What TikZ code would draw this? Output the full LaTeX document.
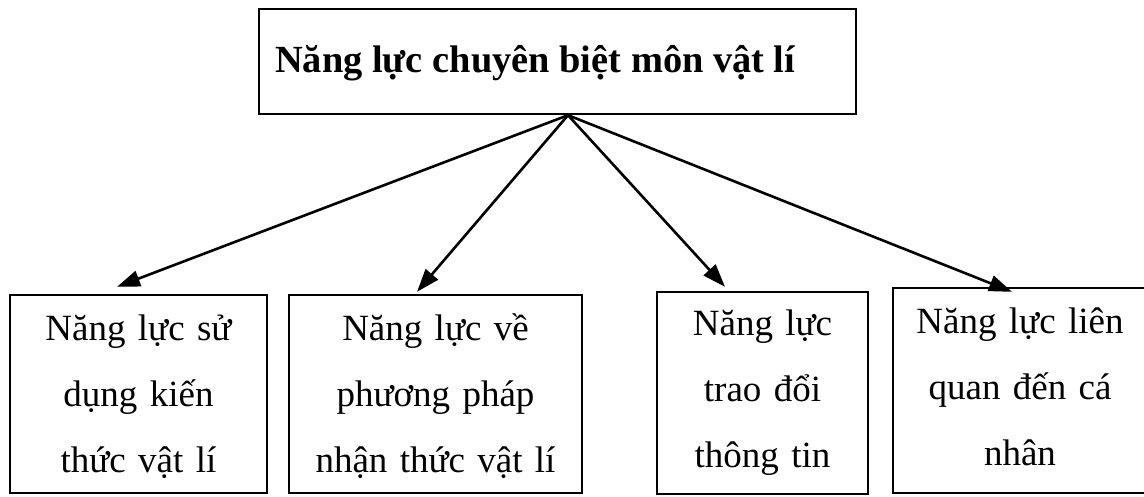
\documentclass[tikz,border=0pt]{standalone}
\usepackage{fontspec}
\setmainfont{Liberation Serif}
\usetikzlibrary{arrows.meta,calc}

\tikzset{
  frame/.style={draw=black, line width=2.4pt, minimum width=#1, inner sep=0pt},
  body/.style={anchor=base, align=center, text width=300pt, inner sep=0pt,
               font=\fontsize{37}{66}\selectfont},
  link/.style={line width=2.6pt, -{Triangle[length=23pt,width=16pt]}}
}

\begin{document}
\begin{tikzpicture}[x=1pt, y=-1pt]
  \useasboundingbox (0,0) rectangle (1144,496);

  % top box with the title
  \node[frame=597pt, minimum height=105pt] (top) at (557.5,61.5) {};
  \node[anchor=base west, inner sep=0pt, font=\fontsize{38.4}{44}\bfseries\selectfont]
    (title) at (275,72) {Năng lực chuyên biệt môn vật lí};

  % the four boxes below
  \node[frame=257pt, minimum height=198pt] (b1) at (138.5,394) {};
  \node[frame=293pt, minimum height=198pt] (b2) at (435.5,394) {};
  \node[frame=211pt, minimum height=202pt] (b3) at (762.5,393) {};
  \node[frame=254pt, minimum height=205pt] (b4) at (1020,390.5) {};

  \node[body] (t1) at (138.5,340) {Năng lực sử\\dụng kiến\\thức vật lí};
  \node[body] (t2) at (435.5,340) {Năng lực về\\phương pháp\\nhận thức vật lí};
  \node[body] (t3) at (762.5,335) {Năng lực\\trao đổi\\thông tin};
  \node[body] (t4) at (1020,333) {Năng lực liên\\quan đến cá\\nhân};

  % arrows spreading from one point under the title box
  \coordinate (apex) at ($(top.south)+(10.5,0)$);
  \draw[link] (apex) -- ($(b1.north)+(-21.5,-7)$);
  \draw[link] (apex) -- ($(b2.north)+(-18.5,-2)$);
  \draw[link] (apex) -- ($(b3.north)+(-37.5,-4)$);
  \draw[link] (apex) -- ($(b4.north)+(-8,5)$);
\end{tikzpicture}
\end{document}
